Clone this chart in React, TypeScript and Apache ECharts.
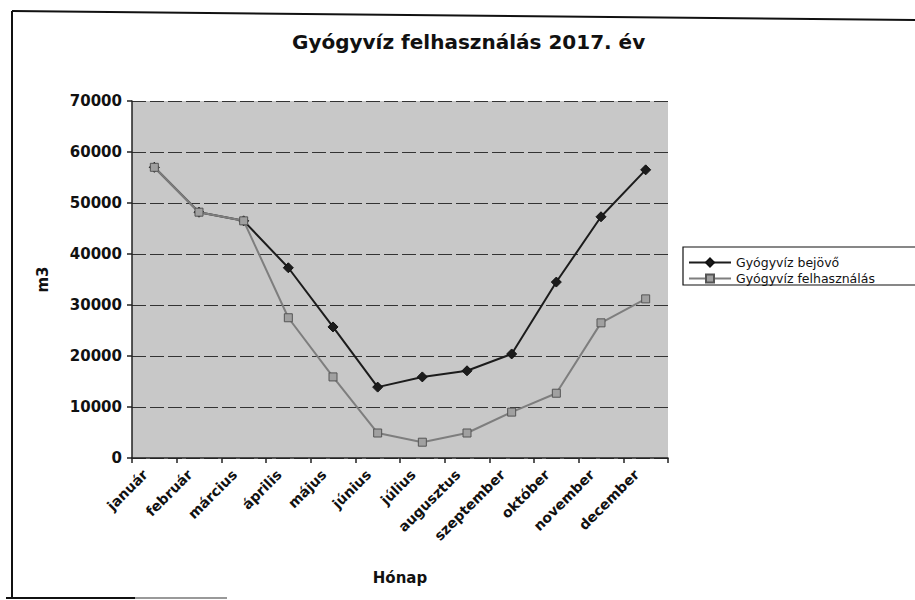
import React, { useEffect, useRef } from "react";
import * as echarts from "echarts";

const months = ["január", "február", "március", "április", "május", "június", "július", "augusztus", "szeptember", "október", "november", "december"];
const bejovo = [57000, 48200, 46500, 37300, 25700, 13900, 15900, 17100, 20400, 34500, 47300, 56500];
const felhasznalt = [57000, 48200, 46500, 27500, 15900, 4900, 3100, 4900, 9000, 12700, 26500, 31200];
const seriesNames = ["Gyógyvíz bejövő", "Gyógyvíz felhasználás"];
const titleText = "Gyógyvíz felhasználás 2017. év";
const FONT = "DejaVu Sans";

export default function App() {
  const ref = useRef<HTMLDivElement>(null);
  useEffect(() => {
    if (!ref.current) return;
    const chart = echarts.init(ref.current, null, { renderer: "svg" });
    chart.setOption({
      animation: false,
      backgroundColor: "#ffffff",
      title: {
        text: titleText,
        left: 292,
        top: 32,
        padding: 0,
        textStyle: { fontFamily: FONT, fontWeight: "bold", fontSize: 20, color: "#111" },
      },
      legend: {
        orient: "vertical",
        left: 688,
        top: 256,
        padding: 0,
        itemGap: 3,
        itemWidth: 42,
        itemHeight: 10,
        textStyle: { fontFamily: FONT, fontSize: 12.5, color: "#111" },
        data: seriesNames,
      },
      grid: {
        left: 132,
        right: 247,
        top: 101,
        bottom: 142,
        show: true,
        backgroundColor: "#c8c8c8",
        borderWidth: 0,
      },
      xAxis: {
        type: "category",
        data: months,
        boundaryGap: true,
        name: "Hónap",
        nameLocation: "middle",
        nameGap: 112,
        nameTextStyle: { fontFamily: FONT, fontWeight: "bold", fontSize: 15, color: "#111" },
        axisLine: { lineStyle: { color: "#222", width: 1.5 } },
        axisTick: { show: true, length: 5, lineStyle: { color: "#222", width: 1.5 } },
        axisLabel: {
          rotate: 45,
          margin: 5,
          padding: [0, 13, 0, 0],
          fontFamily: FONT,
          fontWeight: "bold",
          fontSize: 14,
          color: "#111",
          interval: 0,
        },
      },
      yAxis: {
        type: "value",
        min: 0,
        max: 70000,
        interval: 10000,
        name: "m3",
        nameLocation: "middle",
        nameGap: 82,
        nameTextStyle: { fontFamily: FONT, fontWeight: "bold", fontSize: 15, color: "#111" },
        axisLine: { show: true, lineStyle: { color: "#222", width: 1.5 } },
        axisTick: { show: true, length: 5, lineStyle: { color: "#222", width: 1.5 } },
        axisLabel: {
          margin: 10,
          fontFamily: FONT,
          fontWeight: "bold",
          fontSize: 15,
          color: "#111",
          formatter: (v: number) => String(v),
        },
        splitLine: { show: true, lineStyle: { color: "#333", width: 1, type: [14, 4] } },
      },
      series: [
        {
          name: seriesNames[0],
          type: "line",
          data: bejovo,
          symbol: "diamond",
          symbolSize: 10,
          lineStyle: { color: "#1c1c1c", width: 2 },
          itemStyle: { color: "#1c1c1c", borderColor: "#111", borderWidth: 1 },
          z: 2,
        },
        {
          name: seriesNames[1],
          type: "line",
          data: felhasznalt,
          symbol: "rect",
          symbolSize: 8,
          lineStyle: { color: "#7e7e7e", width: 2 },
          itemStyle: { color: "#a0a0a0", borderColor: "#555", borderWidth: 1 },
          z: 3,
        },
      ],
      graphic: [
        { type: "line", shape: { x1: 12, y1: 11, x2: 915, y2: 20 }, style: { stroke: "#111", lineWidth: 2 } },
        { type: "line", shape: { x1: 12, y1: 11, x2: 12, y2: 598 }, style: { stroke: "#111", lineWidth: 2 } },
        { type: "line", shape: { x1: 6, y1: 598, x2: 135, y2: 598 }, style: { stroke: "#111", lineWidth: 2 } },
        { type: "line", shape: { x1: 135, y1: 598, x2: 227, y2: 598 }, style: { stroke: "#999", lineWidth: 2 } },
        { type: "rect", shape: { x: 683, y: 247, width: 250, height: 38 }, style: { fill: "none", stroke: "#111", lineWidth: 1.2 } },
      ],
    });
    return () => chart.dispose();
  }, []);
  return <div ref={ref} style={{ position: "fixed", left: 0, top: 0, width: 915, height: 600 }} />;
}
